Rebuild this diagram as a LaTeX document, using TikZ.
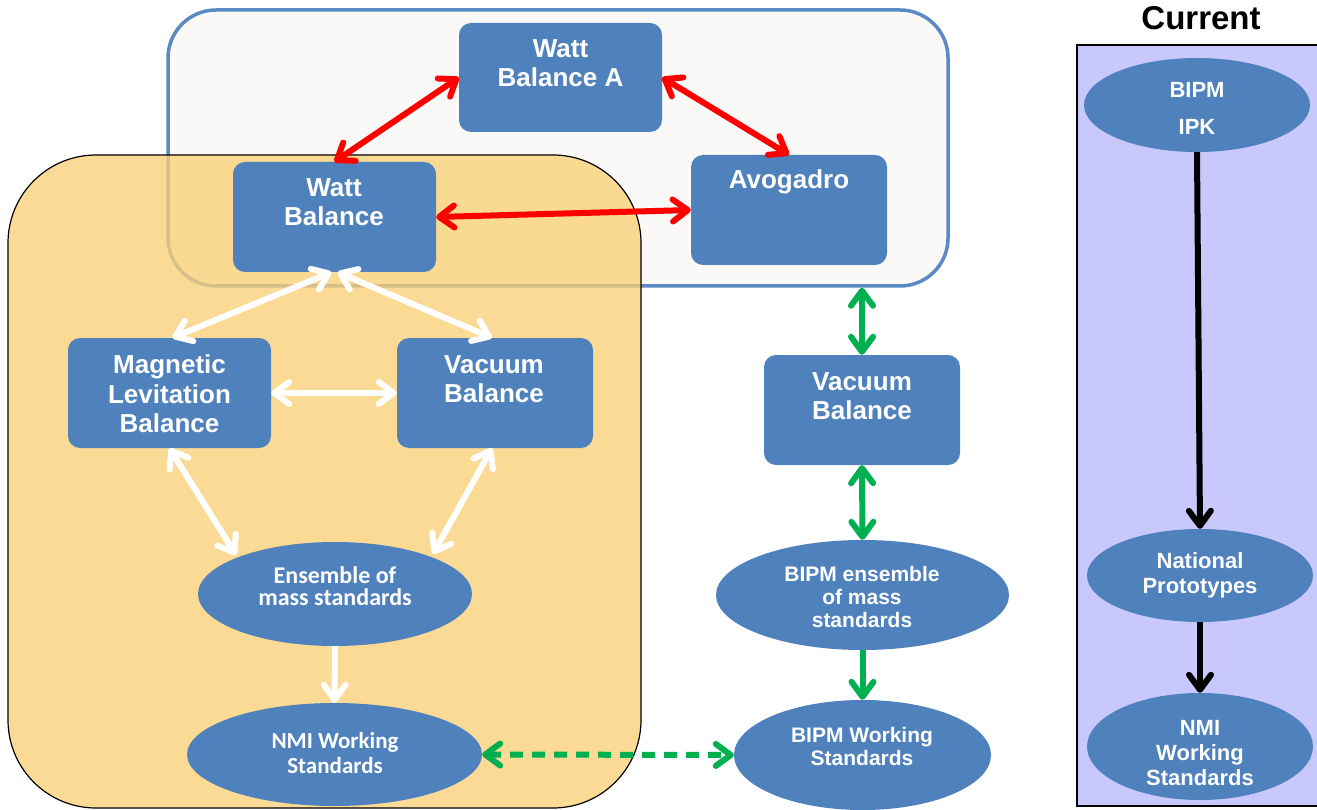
\documentclass[tikz,border=0pt]{standalone}
\usepackage{fontspec}
\setmainfont{Liberation Sans}
\newfontfamily\calfont{Carlito}
\usetikzlibrary{arrows.meta,calc,shapes.geometric}
\definecolor{boxblue}{HTML}{4F81BD}
\definecolor{frameblue}{HTML}{5A89C4}
\definecolor{orangefill}{RGB}{251,208,120}
\definecolor{panelfill}{RGB}{200,200,252}
\definecolor{topfill}{RGB}{250,249,247}
\definecolor{grn}{HTML}{00B050}
\tikzset{
  blk/.style={draw=none, fill=boxblue, rounded corners=12pt, inner sep=0pt},
  ell/.style={ellipse, draw=none, fill=boxblue, inner sep=0pt},
  txt/.style={text=white, align=center, inner sep=0pt},
  bigtxt/.style={txt, font=\fontsize{26}{29.5}\selectfont\bfseries},
  calt/.style={txt, font=\fontsize{23}{24}\selectfont\calfont\bfseries},
  smt/.style={txt, font=\fontsize{21}{23}\selectfont\bfseries},
  arr/.style={line width=6pt, >={Straight Barb[round,length=15pt,width=22pt]}},
  redarr/.style={arr, draw=red},
  whitearr/.style={arr, draw=white},
  greenarr/.style={arr, draw=grn},
  blackarr/.style={arr, draw=black},
}
\begin{document}
\begin{tikzpicture}[x=1pt,y=-1pt]
\clip (0,0) rectangle (1317,810);
\fill[white] (0,0) rectangle (1317,810);
% containers
\node[draw=frameblue, line width=3.5pt, fill=topfill, rounded corners=48pt,
      minimum width=780pt, minimum height=276pt, inner sep=0pt] (topbox) at (558,148) {};
\node[draw=black, line width=1.2pt, fill=orangefill, fill opacity=0.78, draw opacity=1,
      rounded corners=88pt, minimum width=633pt, minimum height=653pt, inner sep=0pt] (orange) at (324.5,481.5) {};
\node[draw=black, line width=2pt, fill=panelfill,
      minimum width=245pt, minimum height=761pt, inner sep=0pt] (panel) at (1199.5,425.5) {};
\node[font=\fontsize{33}{36}\selectfont\bfseries, inner sep=0pt] (current) at (1201,18) {Current};
% boxes
\node[blk, minimum width=203pt, minimum height=109pt] (wba) at (560.5,77.5) {};
\node[blk, minimum width=203pt, minimum height=110pt] (wb) at (334.5,217) {};
\node[blk, minimum width=196pt, minimum height=110pt] (avo) at (789,210) {};
\node[blk, minimum width=203pt, minimum height=110pt] (mlb) at (169.5,393) {};
\node[blk, minimum width=196pt, minimum height=110pt] (vbl) at (495,393) {};
\node[blk, minimum width=196pt, minimum height=110pt] (vbr) at (862,410) {};
% ellipses
\node[ell, minimum width=274pt, minimum height=104pt] (ens) at (335,594) {};
\node[ell, minimum width=295pt, minimum height=103pt] (nmil) at (334.5,754.5) {};
\node[ell, minimum width=293pt, minimum height=110pt] (bens) at (862.5,595) {};
\node[ell, minimum width=257pt, minimum height=110pt] (bws) at (862.5,755) {};
\node[ell, minimum width=226pt, minimum height=94pt] (ipk) at (1197,105) {};
\node[ell, minimum width=226pt, minimum height=93pt] (nat) at (1200,575.5) {};
\node[ell, minimum width=226pt, minimum height=107pt] (nmir) at (1200,746.5) {};
% texts
\node[bigtxt] (wbaT) at (560.5,63) {Watt\\Balance A};
\node[bigtxt] (wbT) at (334,202) {Watt\\Balance};
\node[bigtxt] (avoT) at (789,182) {Avogadro};
\node[bigtxt] (mlbT) at (169.5,394) {Magnetic\\Levitation\\Balance};
\node[bigtxt] (vblT) at (494,379) {Vacuum\\Balance};
\node[bigtxt] (vbrT) at (862,396) {Vacuum\\Balance};
\node[calt, font=\fontsize{24}{22}\selectfont\calfont\bfseries] (ensT) at (335,586) {Ensemble of\\mass standards};
\node[calt, font=\fontsize{23}{25}\selectfont\calfont\bfseries] (nmilT) at (335,753) {NMI Working\\Standards};
\node[smt] (bensT) at (862,597) {BIPM ensemble\\of mass\\standards};
\node[smt] (bwsT) at (862,746) {BIPM Working\\Standards};
\node[smt, font=\fontsize{22}{37}\selectfont\bfseries] (ipkT) at (1197,108) {BIPM\\IPK};
\node[smt, font=\fontsize{22}{25}\selectfont\bfseries] (natT) at (1200,575) {National\\Prototypes};
\node[smt, font=\fontsize{22}{25}\selectfont\bfseries] (nmirT) at (1200,753) {NMI\\Working\\Standards};
% red arrows
\draw[redarr, <->] (wb.north) -- (wba.west);
\draw[redarr, <->] (wba.east) -- (avo.north);
\draw[redarr, <->] (wb.east) -- (avo.west);
% white arrows
\draw[whitearr, <->] ($(wb.south)+(-3,0)$) -- ($(mlb.north)+(3,0)$);
\draw[whitearr, <->] ($(wb.south)+(3,0)$) -- ($(vbl.north)+(-3,0)$);
\draw[whitearr, <->] (mlb.east) -- (vbl.west);
\draw[whitearr, <->] (mlb.south) -- ($(ens.center)+(-99,-39)$);
\draw[whitearr, <->] ($(vbl.south)+(-3,0)$) -- ($(ens.center)+(98,-40)$);
\draw[whitearr, ->] (ens.south) -- (nmil.north);
% green arrows
\coordinate (tb) at (vbr.north |- topbox.south);
\draw[greenarr, <->] (tb) -- (vbr.north);
\draw[greenarr, <->] (vbr.south) -- (bens.north);
\draw[greenarr, ->] (bens.south) -- (bws.north);
\draw[greenarr, <->, dash pattern=on 13pt off 9pt] (nmil.east) -- (bws.west);
% black arrows
\draw[blackarr, ->] (ipk.south) -- (nat.north);
\draw[blackarr, ->] (nat.south) -- (nmir.north);
\end{tikzpicture}
\end{document}
